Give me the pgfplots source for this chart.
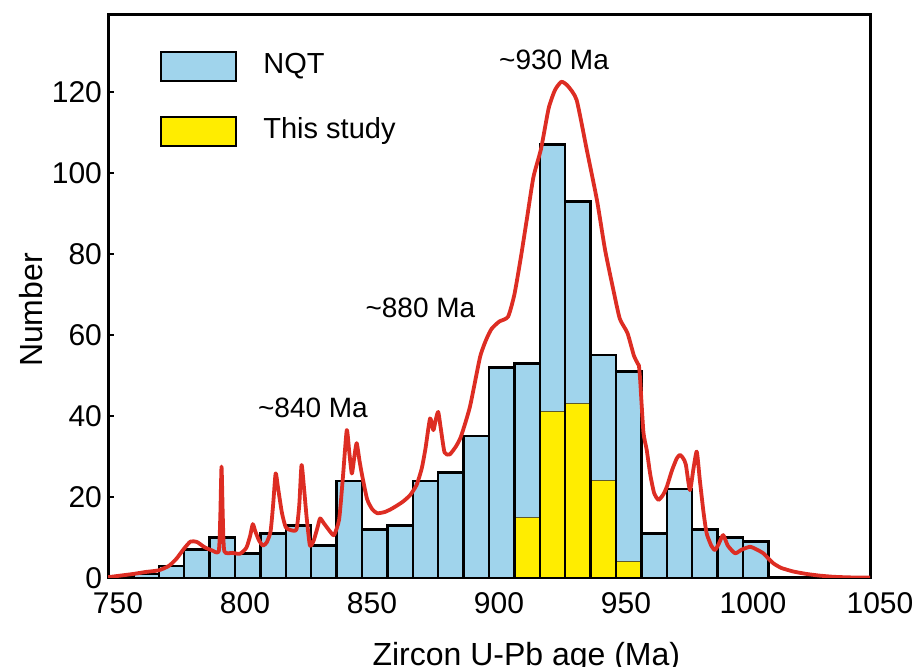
\documentclass[border=0pt]{standalone}
\usepackage{pgfplots}
\pgfplotsset{compat=1.18}
\usepackage{fontspec}
\setmainfont{Liberation Sans}
\definecolor{nqt}{RGB}{160,212,236}
\definecolor{ystudy}{RGB}{255,237,0}
\definecolor{kde}{RGB}{221,45,35}
\begin{document}
\begin{tikzpicture}
\begin{axis}[
  at={(54pt,44.5pt)}, anchor=south west,
  scale only axis, width=381pt, height=281.5pt,
  xmin=750, xmax=1050, ymin=0, ymax=139,
  axis line style={line width=1.5pt},
  xtick={750,800,...,1050}, ytick={0,20,...,120},
  xtick style={draw=none},
  ytick style={line width=1.2pt, black},
  major tick length=3pt, tick align=inside, ytick pos=left, xtick pos=bottom,
  /pgf/number format/assume math mode=true,
  /pgf/number format/1000 sep={},
  scaled ticks=false,
  ticklabel style={font=\fontsize{15}{18}\selectfont},
  xticklabel style={xshift=5pt, yshift=-3.5pt},
  yticklabel style={xshift=0.5pt},
  xlabel={Zircon U-Pb age (Ma)},
  xlabel style={font=\fontsize{16}{19}\selectfont, at={(rel axis cs:0.549,-0.1563)}, anchor=base},
  ylabel={Number},
  ylabel style={font=\fontsize{16}{19}\selectfont, at={(rel axis cs:-0.0866,0.476)}, anchor=base, rotate=0},
]
% NQT histogram (10 Ma bins)
\addplot[ybar, bar width=10, bar shift=0pt, fill=nqt, draw=black, line width=1.2pt] coordinates {
(765,1) (775,3) (785,7) (795,10) (805,6) (815,11) (825,13) (835,8) (845,24) (855,12)
(865,13) (875,24) (885,26) (895,35) (905,52) (915,53) (925,107) (935,93) (945,55) (955,51)
(965,11) (975,22) (985,12) (995,10) (1005,9)};
% This study
\addplot[ybar, bar width=10, bar shift=0pt, fill=ystudy, draw=black!45!olive, line width=0.5pt] coordinates {
(915,15) (925,41) (935,43) (945,24) (955,4)};
\addplot[ybar, bar width=10, bar shift=0pt, fill=none, draw=black, line width=1.2pt] coordinates {
(915,53) (925,107) (935,93) (945,55) (955,51)};
% probability density curve
\addplot[kde, line width=1.9pt, line join=round, smooth, tension=0.35] coordinates {
(750,0.2) (755,0.6) (760,1.0) (765,1.5) (770,1.9) (774,3.0) (777,4.8) (780,7.3) (782.5,9.0)
(785,8.9) (788,7.6) (791,6.8) (793.6,6.6) (794.2,15) (794.7,27.5) (795.2,15) (795.8,6.6)
(799,6.2) (802,6.0) (804.5,7.5) (806,10.5) (807,13.3) (808,11.5) (809.5,9.2) (811,8.0)
(812.5,8.8) (814,11.5) (815,18) (816,25.8) (817,22) (818.5,16) (820,12.5) (822,11.8)
(824.2,12) (825.3,18) (826.2,27.9) (827.2,22) (828.2,15) (829.5,8) (831,9.3) (832.5,12.5)
(833.5,14.7) (835,13.5) (837.4,11.5) (839,10.6) (841,14.5) (842.5,25) (844,36.5) (845,31)
(846,25.8) (847,30) (847.9,33.3) (849,29) (850,25.5) (852,19.5) (854,17) (856,16)
(859,16.3) (862,17.2) (866,18.8) (869,20.5) (871.5,23) (873.5,27) (875,32) (876.8,39.4)
(878.1,36.5) (879,39) (880,41) (881,37) (882.5,31) (884.5,30.5) (887,32.5) (889,35)
(892.5,42.3) (896.5,54.6) (899,59) (901,61.5) (904,63.3) (907.5,64.5) (910,70) (912.5,79)
(915,89) (917.5,99) (920.5,106) (923.5,116) (926,120.5) (928.5,122.5) (931,121.5)
(934.5,118) (938.5,105.7) (942.5,93.3) (945.7,81) (949,71) (951.5,64) (954.5,60.5)
(957,55) (958.5,53) (959,52.5) (959.5,49) (960.8,36) (962.1,31.6) (963.5,25.5) (965,21)
(966.7,19.3) (968.5,20.5) (970,22.5) (972,26.5) (973.9,29.5) (975.2,30.4) (976.5,29.5)
(977.5,28) (979.1,21.7) (980.5,27) (981.8,31.2) (983,24.2) (984.5,16) (985.7,11)
(987.5,8) (989,6.9) (990.5,8.5) (992.2,10.6) (994,8) (996.9,6.1) (999.5,7) (1002.8,7.7)
(1005.5,7) (1008,6.1) (1010,4.8) (1012,3.6) (1015,2.5) (1019.8,1.6) (1025,1.0) (1030,0.6)
(1035.6,0.3) (1042,0.15) (1050,0.1)};
% annotations
\node[font=\fontsize{14}{16}\selectfont] at (axis cs:925.6,127.9) {\textasciitilde930 Ma};
\node[font=\fontsize{14}{16}\selectfont] at (axis cs:873,66.7) {\textasciitilde880 Ma};
\node[font=\fontsize{14}{16}\selectfont] at (axis cs:830.7,42) {\textasciitilde840 Ma};
% legend
\draw[fill=nqt, line width=1.2pt] (rel axis cs:0.0696,0.934) rectangle (rel axis cs:0.168,0.883);
\node[anchor=west, inner sep=0pt, font=\fontsize{14.5}{17}\selectfont] at (rel axis cs:0.2034,0.909) {NQT};
\draw[fill=ystudy, line width=1.2pt] (rel axis cs:0.0696,0.819) rectangle (rel axis cs:0.168,0.767);
\node[anchor=west, inner sep=0pt, font=\fontsize{14.5}{17}\selectfont] at (rel axis cs:0.2034,0.794) {This study};
\end{axis}
\pgfresetboundingbox
\useasboundingbox (0,0) rectangle (460.5pt,333.5pt);
\end{tikzpicture}
\end{document}
